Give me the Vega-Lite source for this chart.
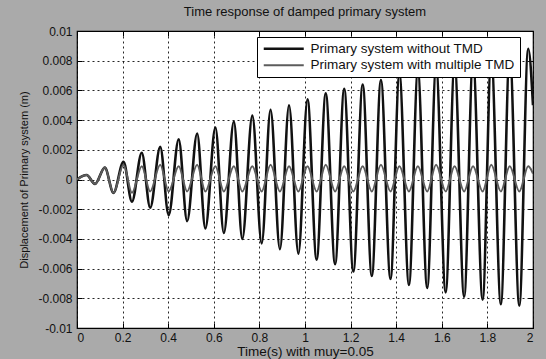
{
  "$schema": "https://vega.github.io/schema/vega-lite/v6.json",
  "width": 456,
  "height": 297,
  "autosize": {"type": "none"},
  "padding": {"left": 77, "top": 31, "right": 13, "bottom": 31},
  "background": "#aaaaaa",
  "config": {
    "font": "Liberation Sans",
    "view": {"fill": "white", "stroke": "black", "strokeWidth": 1.2},
    "axis": {
      "labelFontSize": 12,
      "labelColor": "#111111",
      "titleColor": "#111111",
      "titleFontWeight": "normal",
      "domain": false,
      "tickColor": "black",
      "tickSize": -5,
      "gridColor": "black",
      "gridDash": [2, 3],
      "gridOpacity": 0.85,
      "gridWidth": 1
    }
  },
  "title": {
    "text": "Time response of damped primary system",
    "fontSize": 13,
    "fontWeight": "normal",
    "color": "#111111",
    "anchor": "middle",
    "offset": 6
  },
  "data": {
    "values": [
      {"t": 0.000, "d": 0.0000, "series": "Primary system without TMD"},
      {"t": 0.042, "d": 0.0003, "series": "Primary system without TMD"},
      {"t": 0.079, "d": -0.0003, "series": "Primary system without TMD"},
      {"t": 0.122, "d": 0.0008, "series": "Primary system without TMD"},
      {"t": 0.160, "d": -0.0009, "series": "Primary system without TMD"},
      {"t": 0.204, "d": 0.0012, "series": "Primary system without TMD"},
      {"t": 0.241, "d": -0.0015, "series": "Primary system without TMD"},
      {"t": 0.284, "d": 0.0018, "series": "Primary system without TMD"},
      {"t": 0.321, "d": -0.0019, "series": "Primary system without TMD"},
      {"t": 0.365, "d": 0.0022, "series": "Primary system without TMD"},
      {"t": 0.402, "d": -0.0024, "series": "Primary system without TMD"},
      {"t": 0.446, "d": 0.0027, "series": "Primary system without TMD"},
      {"t": 0.483, "d": -0.0028, "series": "Primary system without TMD"},
      {"t": 0.527, "d": 0.0031, "series": "Primary system without TMD"},
      {"t": 0.563, "d": -0.0033, "series": "Primary system without TMD"},
      {"t": 0.607, "d": 0.0035, "series": "Primary system without TMD"},
      {"t": 0.644, "d": -0.0036, "series": "Primary system without TMD"},
      {"t": 0.688, "d": 0.0039, "series": "Primary system without TMD"},
      {"t": 0.725, "d": -0.0040, "series": "Primary system without TMD"},
      {"t": 0.769, "d": 0.0043, "series": "Primary system without TMD"},
      {"t": 0.810, "d": -0.0043, "series": "Primary system without TMD"},
      {"t": 0.849, "d": 0.0047, "series": "Primary system without TMD"},
      {"t": 0.890, "d": -0.0047, "series": "Primary system without TMD"},
      {"t": 0.930, "d": 0.0050, "series": "Primary system without TMD"},
      {"t": 0.971, "d": -0.0050, "series": "Primary system without TMD"},
      {"t": 1.011, "d": 0.0054, "series": "Primary system without TMD"},
      {"t": 1.051, "d": -0.0054, "series": "Primary system without TMD"},
      {"t": 1.091, "d": 0.0058, "series": "Primary system without TMD"},
      {"t": 1.132, "d": -0.0057, "series": "Primary system without TMD"},
      {"t": 1.172, "d": 0.0061, "series": "Primary system without TMD"},
      {"t": 1.212, "d": -0.0062, "series": "Primary system without TMD"},
      {"t": 1.253, "d": 0.0064, "series": "Primary system without TMD"},
      {"t": 1.293, "d": -0.0065, "series": "Primary system without TMD"},
      {"t": 1.333, "d": 0.0067, "series": "Primary system without TMD"},
      {"t": 1.375, "d": -0.0067, "series": "Primary system without TMD"},
      {"t": 1.414, "d": 0.0071, "series": "Primary system without TMD"},
      {"t": 1.456, "d": -0.0071, "series": "Primary system without TMD"},
      {"t": 1.495, "d": 0.0073, "series": "Primary system without TMD"},
      {"t": 1.536, "d": -0.0073, "series": "Primary system without TMD"},
      {"t": 1.575, "d": 0.0076, "series": "Primary system without TMD"},
      {"t": 1.617, "d": -0.0076, "series": "Primary system without TMD"},
      {"t": 1.656, "d": 0.0078, "series": "Primary system without TMD"},
      {"t": 1.698, "d": -0.0079, "series": "Primary system without TMD"},
      {"t": 1.737, "d": 0.0081, "series": "Primary system without TMD"},
      {"t": 1.779, "d": -0.0081, "series": "Primary system without TMD"},
      {"t": 1.817, "d": 0.0083, "series": "Primary system without TMD"},
      {"t": 1.859, "d": -0.0084, "series": "Primary system without TMD"},
      {"t": 1.898, "d": 0.0086, "series": "Primary system without TMD"},
      {"t": 1.940, "d": -0.0085, "series": "Primary system without TMD"},
      {"t": 1.979, "d": 0.0088, "series": "Primary system without TMD"},
      {"t": 2.000, "d": 0.0050, "series": "Primary system without TMD"},
      {"t": 0.000, "d": 0.0000, "series": "Primary system with multiple TMD"},
      {"t": 0.042, "d": 0.0003, "series": "Primary system with multiple TMD"},
      {"t": 0.079, "d": -0.0003, "series": "Primary system with multiple TMD"},
      {"t": 0.122, "d": 0.0008, "series": "Primary system with multiple TMD"},
      {"t": 0.160, "d": -0.0009, "series": "Primary system with multiple TMD"},
      {"t": 0.204, "d": 0.0010, "series": "Primary system with multiple TMD"},
      {"t": 0.241, "d": -0.0009, "series": "Primary system with multiple TMD"},
      {"t": 0.284, "d": 0.0009, "series": "Primary system with multiple TMD"},
      {"t": 0.321, "d": -0.0008, "series": "Primary system with multiple TMD"},
      {"t": 0.365, "d": 0.0010, "series": "Primary system with multiple TMD"},
      {"t": 0.402, "d": -0.0008, "series": "Primary system with multiple TMD"},
      {"t": 0.446, "d": 0.0009, "series": "Primary system with multiple TMD"},
      {"t": 0.483, "d": -0.0008, "series": "Primary system with multiple TMD"},
      {"t": 0.527, "d": 0.0010, "series": "Primary system with multiple TMD"},
      {"t": 0.563, "d": -0.0008, "series": "Primary system with multiple TMD"},
      {"t": 0.607, "d": 0.0009, "series": "Primary system with multiple TMD"},
      {"t": 0.644, "d": -0.0008, "series": "Primary system with multiple TMD"},
      {"t": 0.688, "d": 0.0009, "series": "Primary system with multiple TMD"},
      {"t": 0.725, "d": -0.0008, "series": "Primary system with multiple TMD"},
      {"t": 0.769, "d": 0.0009, "series": "Primary system with multiple TMD"},
      {"t": 0.810, "d": -0.0008, "series": "Primary system with multiple TMD"},
      {"t": 0.849, "d": 0.0010, "series": "Primary system with multiple TMD"},
      {"t": 0.890, "d": -0.0008, "series": "Primary system with multiple TMD"},
      {"t": 0.930, "d": 0.0009, "series": "Primary system with multiple TMD"},
      {"t": 0.971, "d": -0.0008, "series": "Primary system with multiple TMD"},
      {"t": 1.011, "d": 0.0009, "series": "Primary system with multiple TMD"},
      {"t": 1.051, "d": -0.0008, "series": "Primary system with multiple TMD"},
      {"t": 1.091, "d": 0.0010, "series": "Primary system with multiple TMD"},
      {"t": 1.132, "d": -0.0008, "series": "Primary system with multiple TMD"},
      {"t": 1.172, "d": 0.0009, "series": "Primary system with multiple TMD"},
      {"t": 1.212, "d": -0.0008, "series": "Primary system with multiple TMD"},
      {"t": 1.253, "d": 0.0009, "series": "Primary system with multiple TMD"},
      {"t": 1.293, "d": -0.0008, "series": "Primary system with multiple TMD"},
      {"t": 1.333, "d": 0.0010, "series": "Primary system with multiple TMD"},
      {"t": 1.375, "d": -0.0008, "series": "Primary system with multiple TMD"},
      {"t": 1.414, "d": 0.0009, "series": "Primary system with multiple TMD"},
      {"t": 1.456, "d": -0.0008, "series": "Primary system with multiple TMD"},
      {"t": 1.495, "d": 0.0009, "series": "Primary system with multiple TMD"},
      {"t": 1.536, "d": -0.0008, "series": "Primary system with multiple TMD"},
      {"t": 1.575, "d": 0.0010, "series": "Primary system with multiple TMD"},
      {"t": 1.617, "d": -0.0008, "series": "Primary system with multiple TMD"},
      {"t": 1.656, "d": 0.0009, "series": "Primary system with multiple TMD"},
      {"t": 1.698, "d": -0.0008, "series": "Primary system with multiple TMD"},
      {"t": 1.737, "d": 0.0009, "series": "Primary system with multiple TMD"},
      {"t": 1.779, "d": -0.0008, "series": "Primary system with multiple TMD"},
      {"t": 1.817, "d": 0.0010, "series": "Primary system with multiple TMD"},
      {"t": 1.859, "d": -0.0008, "series": "Primary system with multiple TMD"},
      {"t": 1.898, "d": 0.0009, "series": "Primary system with multiple TMD"},
      {"t": 1.940, "d": -0.0008, "series": "Primary system with multiple TMD"},
      {"t": 1.979, "d": 0.0009, "series": "Primary system with multiple TMD"},
      {"t": 2.000, "d": 0.0004, "series": "Primary system with multiple TMD"}
    ]
  },
  "layer": [
    {
      "mark": {"type": "line", "interpolate": "monotone", "clip": true},
      "encoding": {
        "x": {
          "field": "t",
          "type": "quantitative",
          "scale": {"domain": [0, 2], "nice": false, "zero": false},
          "axis": {
            "orient": "bottom",
            "values": [0, 0.2, 0.4, 0.6, 0.8, 1, 1.2, 1.4, 1.6, 1.8, 2],
            "labelExpr": "format(datum.value, '~g')",
            "labelPadding": 9,
            "title": "Time(s) with muy=0.05",
            "titleFontSize": 13.5,
            "titlePadding": 1
          }
        },
        "y": {
          "field": "d",
          "type": "quantitative",
          "scale": {"domain": [-0.01, 0.01], "nice": false, "zero": false},
          "axis": {
            "orient": "left",
            "values": [-0.01, -0.008, -0.006, -0.004, -0.002, 0, 0.002, 0.004, 0.006, 0.008, 0.01],
            "labelExpr": "replace(format(datum.value, '~g'), '\u2212', '-')",
            "labelPadding": 10,
            "title": "Displacement of Primary system (m)",
            "titleFontSize": 11,
            "titlePadding": 8
          }
        },
        "color": {
          "field": "series",
          "type": "nominal",
          "scale": {
            "domain": ["Primary system without TMD", "Primary system with multiple TMD"],
            "range": ["#111111", "#5c5c5c"]
          },
          "legend": {
            "title": null,
            "orient": "none",
            "legendX": 180,
            "legendY": 6,
            "symbolType": "M-4,0H4",
            "symbolSize": 100,
            "symbolOffset": 15,
            "symbolStrokeWidth": 2,
            "labelFontSize": 13.5,
            "labelColor": "#111111",
            "labelOffset": 20,
            "rowPadding": 1.5,
            "padding": 5,
            "strokeColor": "black",
            "fillColor": "white",
            "labelLimit": 400
          }
        },
        "strokeWidth": {
          "field": "series",
          "type": "nominal",
          "scale": {
            "domain": ["Primary system without TMD", "Primary system with multiple TMD"],
            "range": [2.6, 2]
          },
          "legend": null
        }
      }
    },
    {
      "mark": {"type": "line", "opacity": 0},
      "encoding": {
        "x": {
          "field": "t",
          "type": "quantitative",
          "axis": {
            "orient": "top",
            "values": [0, 0.2, 0.4, 0.6, 0.8, 1, 1.2, 1.4, 1.6, 1.8, 2],
            "labels": false,
            "grid": false,
            "title": null
          }
        },
        "y": {
          "field": "d",
          "type": "quantitative",
          "axis": {
            "orient": "right",
            "values": [-0.01, -0.008, -0.006, -0.004, -0.002, 0, 0.002, 0.004, 0.006, 0.008, 0.01],
            "labels": false,
            "grid": false,
            "title": null
          }
        }
      }
    }
  ],
  "resolve": {"axis": {"x": "independent", "y": "independent"}}
}
